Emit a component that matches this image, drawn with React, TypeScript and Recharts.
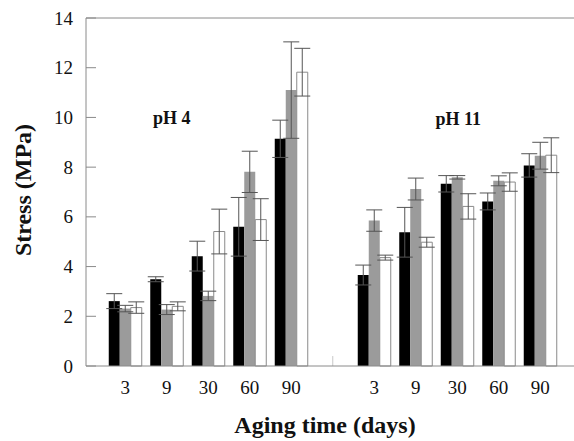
import { BarChart, Bar, XAxis, YAxis, ErrorBar, ReferenceLine, ReferenceDot, Label } from "recharts"

const SERIF = '"Liberation Serif", "Times New Roman", serif'
const AXIS_GRAY = "#8a8a8a"

const groupLabels = ["pH 4", "pH 11"]
const days = ["3", "9", "30", "60", "90"]

// pH 4
const blackPH4 = [2.61, 3.49, 4.42, 5.6, 9.14]
const blackErrPH4 = [0.3, 0.1, 0.6, 1.18, 0.75]
const grayPH4 = [2.31, 2.27, 2.82, 7.81, 11.1]
const grayErrPH4 = [0.13, 0.2, 0.19, 0.83, 1.94]
const whitePH4 = [2.35, 2.4, 5.41, 5.89, 11.82]
const whiteErrPH4 = [0.23, 0.18, 0.9, 0.84, 0.96]

// pH 11
const blackPH11 = [3.66, 5.38, 7.33, 6.62, 8.07]
const blackErrPH11 = [0.4, 1.0, 0.33, 0.34, 0.47]
const grayPH11 = [5.85, 7.12, 7.59, 7.45, 8.46]
const grayErrPH11 = [0.43, 0.44, 0.07, 0.2, 0.54]
const whitePH11 = [4.36, 4.98, 6.42, 7.4, 8.48]
const whiteErrPH11 = [0.1, 0.2, 0.51, 0.37, 0.7]

const yTicks = [0, 2, 4, 6, 8, 10, 12, 14]

type Row = {
  key: string
  label: string
  black?: number
  blackErr?: number
  gray?: number
  grayErr?: number
  white?: number
  whiteErr?: number
}

function buildRows(prefix: string, b: number[], be: number[], g: number[], ge: number[], w: number[], we: number[]): Row[] {
  return days.map((d, i) => ({
    key: `${prefix}-${d}`,
    label: d,
    black: b[i],
    blackErr: be[i],
    gray: g[i],
    grayErr: ge[i],
    white: w[i],
    whiteErr: we[i],
  }))
}

const rows: Row[] = [
  ...buildRows("ph4", blackPH4, blackErrPH4, grayPH4, grayErrPH4, whitePH4, whiteErrPH4),
  { key: "gap", label: "" },
  ...buildRows("ph11", blackPH11, blackErrPH11, grayPH11, grayErrPH11, whitePH11, whiteErrPH11),
]

const labelFor = new Map(rows.map((r) => [r.key, r.label]))

function StressTick(props: any) {
  const { x, y, payload } = props
  return (
    <g>
      <line x1={x} x2={x + 10} y1={y} y2={y} stroke={AXIS_GRAY} />
      <text x={x - 13} y={y} textAnchor="end" dominantBaseline="central" fontFamily={SERIF} fontSize={19} fill="#111">
        {payload.value}
      </text>
    </g>
  )
}

function StressLabel(props: any) {
  const vb = props.viewBox
  const cx = 23
  const cy = vb.y + vb.height / 2 - 2
  return (
    <text
      x={cx}
      y={cy}
      transform={`rotate(-90 ${cx} ${cy})`}
      textAnchor="middle"
      dominantBaseline="central"
      fontFamily={SERIF}
      fontWeight="bold"
      fontSize={24}
      fill="#111"
    >
      Stress (MPa)
    </text>
  )
}

export default function App() {
  const errStyle = { stroke: "#555", strokeWidth: 1 }
  const textStyle = { fontFamily: SERIF, fontWeight: "bold", fontSize: 18, fill: "#111" }
  return (
    <div style={{ position: "absolute", left: 0, top: 0, background: "#fff" }}>
      <BarChart
        width={574}
        height={441}
        data={rows}
        margin={{ top: 18, right: 0, bottom: 0, left: 0 }}
        barCategoryGap={4.25}
        barGap={0}
      >
        <XAxis
          dataKey="key"
          height={75}
          padding={{ left: 18.5, right: 13 }}
          tickLine={false}
          tickSize={0}
          tickMargin={15}
          axisLine={{ stroke: AXIS_GRAY }}
          interval={0}
          tickFormatter={(v: string) => labelFor.get(v) ?? ""}
          tick={{ fontFamily: SERIF, fontSize: 19, fill: "#111" }}
        >
          <Label
            value="Aging time (days)"
            position="insideBottom"
            offset={8}
            dx={-5}
            style={{ fontFamily: SERIF, fontWeight: "bold", fontSize: 24, fill: "#111" }}
          />
        </XAxis>
        <YAxis
          width={86}
          domain={[0, 14]}
          ticks={yTicks}
          interval={0}
          tickLine={false}
          tickSize={0}
          tickMargin={0}
          axisLine={{ stroke: AXIS_GRAY }}
          tick={<StressTick />}
        >
          <Label content={<StressLabel />} />
        </YAxis>
        <ReferenceLine y={14} stroke={AXIS_GRAY} />
        <ReferenceLine
          segment={[
            { x: "gap", y: 0 },
            { x: "gap", y: 0.4 },
          ]}
          stroke="#c8c8c8"
        />
        <Bar dataKey="black" fill="#000" isAnimationActive={false}>
          <ErrorBar dataKey="blackErr" width={8} {...errStyle} />
        </Bar>
        <Bar dataKey="gray" fill="#9b9b9b" isAnimationActive={false}>
          <ErrorBar dataKey="grayErr" width={8} {...errStyle} />
        </Bar>
        <Bar dataKey="white" fill="#fff" stroke="#8a8a8a" strokeWidth={1} isAnimationActive={false}>
          <ErrorBar dataKey="whiteErr" width={8} {...errStyle} />
        </Bar>
        <ReferenceDot
          x="ph4-9"
          y={10}
          r={1}
          fill="none"
          stroke="none"
          label={{ value: groupLabels[0], position: "center", dx: 5, ...textStyle }}
        />
        <ReferenceDot
          x="ph11-30"
          y={9.95}
          r={1}
          fill="none"
          stroke="none"
          label={{ value: groupLabels[1], position: "center", dx: 1, ...textStyle }}
        />
      </BarChart>
    </div>
  )
}
